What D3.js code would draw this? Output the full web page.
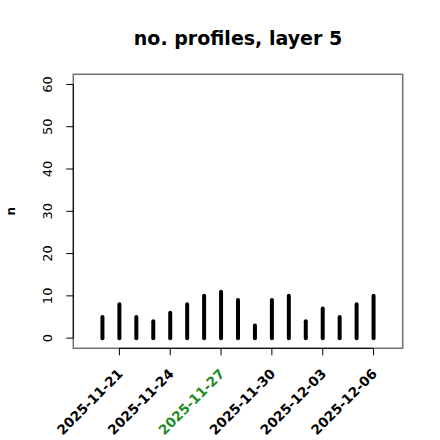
<!DOCTYPE html>
<html><head><meta charset="utf-8">
<script src="https://cdn.jsdelivr.net/npm/d3@7"></script>
<style>body{margin:0;background:#fff}svg{display:block}text{font-family:"DejaVu Sans",sans-serif}</style>
</head><body>
<script>
const dates = ["2025-11-20","2025-11-21","2025-11-22","2025-11-23","2025-11-24","2025-11-25","2025-11-26","2025-11-27","2025-11-28","2025-11-29","2025-11-30","2025-12-01","2025-12-02","2025-12-03","2025-12-04","2025-12-05","2025-12-06"];
const counts = [5,8,5,4,6,8,10,11,9,3,9,10,4,7,5,8,10];
const xTickLabels = ["2025-11-21","2025-11-24","2025-11-27","2025-11-30","2025-12-03","2025-12-06"];
const highlightLabel = "2025-11-27";
const yTicks = [0,10,20,30,40,50,60];
const title = "no. profiles, layer 5";
const yTitle = "n";

const W = 440, H = 440;
const L = 73.3, R = 402.7, T = 74.3, B = 348.3;
const parse = s => new Date(s + "T00:00:00Z");
const d0 = parse("2025-11-19").getTime(), d1 = parse("2025-12-07").getTime();
const pad = (d1 - d0) * 0.04;
const x = d3.scaleUtc().domain([new Date(d0 - pad), new Date(d1 + pad)]).range([L, R]);
const y = d3.scaleLinear().domain([-2.4, 62.4]).range([B, T]);

const svg = d3.select("body").append("svg").attr("width", W).attr("height", H);

// bars
svg.append("g").selectAll("line").data(dates).join("line")
  .attr("x1", d => x(parse(d))).attr("x2", d => x(parse(d)))
  .attr("y1", y(0)).attr("y2", (d, i) => y(counts[i]))
  .attr("stroke", "#000").attr("stroke-width", 4).attr("stroke-linecap", "round");

// box
svg.append("rect").attr("x", L).attr("y", T).attr("width", R - L).attr("height", B - T)
  .attr("fill", "none").attr("stroke", "#707070").attr("stroke-width", 1.5);

// y axis
const gy = svg.append("g");
gy.append("line").attr("x1", L).attr("x2", L).attr("y1", y(0)).attr("y2", y(60)).attr("stroke", "#000");
gy.selectAll(".t").data(yTicks).join("line").attr("class", "t")
  .attr("x1", L - 7).attr("x2", L).attr("y1", d => y(d)).attr("y2", d => y(d)).attr("stroke", "#000");
gy.selectAll("text").data(yTicks).join("text")
  .attr("transform", d => `translate(52,${y(d)}) rotate(-90)`)
  .attr("text-anchor", "middle").attr("font-size", 13).text(d => d);

// x axis
const gx = svg.append("g");
const xt = xTickLabels.map(parse);
gx.append("line").attr("x1", x(xt[0])).attr("x2", x(xt[xt.length - 1])).attr("y1", B).attr("y2", B).attr("stroke", "#000");
gx.selectAll(".t").data(xt).join("line").attr("class", "t")
  .attr("x1", d => x(d)).attr("x2", d => x(d)).attr("y1", B).attr("y2", B + 7).attr("stroke", "#000");
gx.selectAll("text").data(xTickLabels).join("text")
  .attr("transform", d => `translate(${x(parse(d)) + 1},${B + 23}) rotate(-45)`)
  .attr("text-anchor", "end").attr("dy", "0.35em")
  .attr("font-size", 13.5).attr("font-weight", "bold")
  .attr("fill", d => d === highlightLabel ? "#228B22" : "#000")
  .text(d => d);

// titles
svg.append("text").attr("x", (L + R) / 2).attr("y", 45).attr("text-anchor", "middle")
  .attr("font-size", 19).attr("font-weight", "bold").text(title);
svg.append("text").attr("transform", `translate(15,${(T + B) / 2}) rotate(-90)`)
  .attr("text-anchor", "middle").attr("font-size", 12).attr("font-weight", "bold").text(yTitle);
</script>
</body></html>
